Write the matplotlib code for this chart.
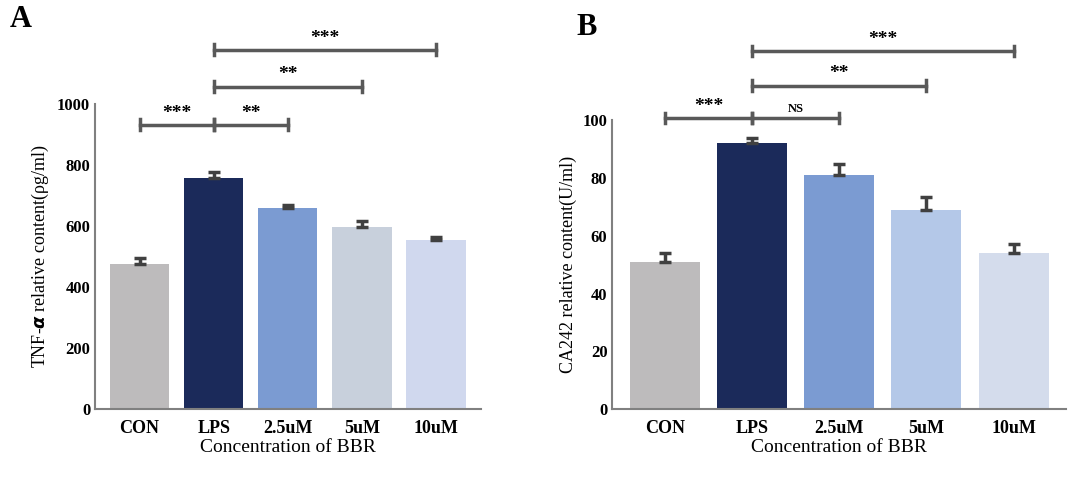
import matplotlib.pyplot as plt

plt.rcParams['font.family'] = 'Liberation Serif'
plt.rcParams['font.weight'] = 'bold'

groups = ['CON', 'LPS', '2.5uM', '5uM', '10uM']
tnf = [475, 757, 660, 595, 555]
tnf_err = [20, 20, 8, 20, 10]
ca = [51, 92, 81, 69, 54]
ca_err = [3, 2, 4, 4.5, 3]
colors_a = ['#bdbbbc', '#1b2a5a', '#7b9bd2', '#c8d0dc', '#d0d8ee']
colors_b = ['#bdbbbc', '#1b2a5a', '#7b9bd2', '#b4c8e8', '#d4dcec']
sig_a = [(0, 1, 931, '***'), (1, 2, 931, '**'), (1, 3, 1056, '**'), (1, 4, 1177, '***')]
sig_b = [(0, 1, 100.7, '***'), (1, 2, 100.7, 'NS'), (1, 3, 112, '**'), (1, 4, 124, '***')]

fig = plt.figure(figsize=(10.8, 4.83), dpi=100)
ax1 = fig.add_axes([0.088, 0.153, 0.357, 0.632])
ax2 = fig.add_axes([0.567, 0.153, 0.420, 0.598])


def panel(ax, vals, errs, cols, sigs, ymax, step, ylabel, letter, tickh):
    x = range(len(groups))
    ax.bar(x, vals, width=0.8, color=cols)
    ax.errorbar(x, vals, yerr=[[0] * len(errs), errs], fmt='none',
                ecolor='#404040', elinewidth=2.5, capsize=4, capthick=2.5)
    ax.set_ylim(0, ymax)
    ax.set_xlim(-0.6, 4.6)
    ax.set_yticks(range(0, ymax + 1, step))
    ax.set_xticks(list(x))
    ax.set_xticklabels(groups, fontsize=13)
    ax.tick_params(axis='y', labelsize=12, length=0)
    ax.tick_params(axis='x', length=0, pad=8)
    for s in ['top', 'right']:
        ax.spines[s].set_visible(False)
    for s in ['left', 'bottom']:
        ax.spines[s].set_color('#808080')
        ax.spines[s].set_linewidth(1.5)
    ax.set_xlabel('Concentration of BBR', fontsize=14, labelpad=1)
    ax.set_ylabel(ylabel, fontsize=13)
    for i, j, y, t in sigs:
        ax.plot([i, j], [y, y], color='#595959', lw=2.5, clip_on=False)
        for xx in (i, j):
            ax.plot([xx, xx], [y - tickh, y + tickh], color='#595959', lw=2.5, clip_on=False)
        fs = 9 if t == 'NS' else 14
        ax.text((i + j) / 2, y + tickh * 0.6, t, ha='center', va='bottom', fontsize=fs)
    ax.text(-0.2, 1.0, letter, transform=ax.transAxes, fontsize=22, va='bottom')


panel(ax1, tnf, tnf_err, colors_a, sig_a, 1000, 200,
      r'TNF-$\alpha$ relative content(ρg/ml)', 'A', 18)
ax1.texts[-1].set_position((-0.22, 1.23))
panel(ax2, ca, ca_err, colors_b, sig_b, 100, 20,
      'CA242 relative content(U/ml)', 'B', 1.8)
ax2.texts[-1].set_position((-0.08, 1.27))

fig.savefig('out.png', dpi=100)
